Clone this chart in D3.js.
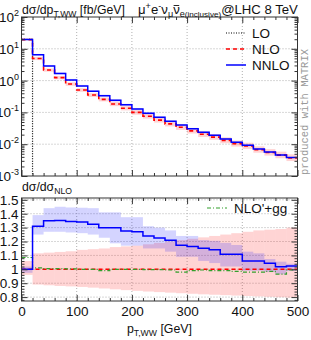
<!DOCTYPE html>
<html><head><meta charset="utf-8">
<script src="https://cdn.jsdelivr.net/npm/d3@7"></script>
<style>body{margin:0;background:#fff}svg{display:block;font-family:"Liberation Sans",Arial,sans-serif}</style>
</head><body><svg id="c" width="311" height="340"></svg>
<script>
// ---------------- data ----------------
const binEdges = [0,20,40,60,80,100,120,140,160,180,200,220,240,260,280,300,320,340,360,380,400,420,440,460,480,500];
const loValues = [20.0]; // LO only populates the first bin
const nloValues = [19.5,4.96,2.15,1.244,0.781,0.507,0.352,0.257,0.184,0.1357,0.100,0.076,0.0573,0.0435,0.034,0.0263,0.0205,0.01675,0.01318,0.01038,0.00877,0.0067,0.00546,0.00452,0.00371];
const nnloValues = [19.5,6.5,2.9,1.68,1.05,0.68,0.466,0.334,0.239,0.173,0.127,0.0942,0.0702,0.0526,0.0399,0.0306,0.0236,0.0191,0.0146,0.0115,0.0093,0.0071,0.0057,0.0046,0.0038];
// scale-uncertainty bands, relative to central NLO
const nloBandLo = [0.96,0.89,0.885,0.88,0.877,0.873,0.868,0.862,0.856,0.85,0.845,0.84,0.836,0.832,0.828,0.824,0.82,0.817,0.814,0.811,0.808,0.805,0.802,0.799,0.796];
const nloBandHi = [1.06,1.115,1.12,1.125,1.13,1.14,1.145,1.15,1.16,1.165,1.17,1.18,1.19,1.2,1.21,1.22,1.23,1.24,1.25,1.26,1.27,1.28,1.285,1.29,1.30];
const nnloBandLo = [0.975,1.25,1.27,1.27,1.265,1.26,1.25,1.227,1.187,1.17,1.17,1.15,1.15,1.127,1.09,1.09,1.06,1.045,1.02,1.02,0.99,0.99,0.98,0.964,0.988];
const nnloBandHi = [1.02,1.39,1.44,1.45,1.445,1.443,1.44,1.41,1.41,1.375,1.375,1.31,1.30,1.28,1.24,1.24,1.21,1.205,1.19,1.175,1.127,1.115,1.074,1.055,1.04];
const nloggRatio = [1.085,1.01,1.005,1.005,1.003,1.0,1.0,0.99,1.0,1.0,1.0,0.998,0.998,0.995,0.98,0.99,0.995,0.99,0.99,0.985,0.98,0.98,0.985,0.965,0.995];
const xTicks = [0,100,200,300,400,500];
const ratioTicks = [0.8,0.9,1,1.1,1.2,1.3,1.4,1.5];
const ratioTickLabels = ["0.8","0.9","1","1.1","1.2","1.3","1.4","1.5"];
const logTicks = [1e-3,1e-2,1e-1,1e0,1e1,1e2];
const logTickExp = ["-3","-2","-1","0","1","2"];

// ---------------- layout ----------------
const svg = d3.select('#c');
const L = 21.5, R = 297.5;
const upT = 17, upB = 176, loT = 198, loB = 301;
const x = d3.scaleLinear().domain([0,500]).range([L,R]);
const yu = d3.scaleLog().domain([1e-3,1e2]).range([upB,upT]).clamp(true);
const yr = d3.scaleLinear().domain([0.772,1.513]).range([loB,loT]);
const FRAME = '#333', GRID = '#b0b0b0', TXT = '#111';
const RED = '#ff0000', BLUE = '#0000ff', GREEN = '#33a02c';

const defs = svg.append('defs');
defs.append('clipPath').attr('id','cu').append('rect').attr('x',L).attr('y',upT).attr('width',R-L).attr('height',upB-upT);
defs.append('clipPath').attr('id','cl').append('rect').attr('x',L).attr('y',loT).attr('width',R-L).attr('height',loB-loT);

function stepPts(vals){
  const p=[]; vals.forEach((v,i)=>{p.push([binEdges[i],v]);p.push([binEdges[i+1],v]);}); return p;
}
const ratio = (a)=>a.map((v,i)=>v/nloValues[i]);

// ---------------- grids ----------------
const gu = svg.append('g');
[100,200,300,400].forEach(t=>{
  gu.append('line').attr('x1',x(t)).attr('x2',x(t)).attr('y1',upT).attr('y2',upB);
  gu.append('line').attr('x1',x(t)).attr('x2',x(t)).attr('y1',loT).attr('y2',loB);
});
logTicks.slice(1,-1).forEach(t=>gu.append('line').attr('x1',L).attr('x2',R).attr('y1',yu(t)).attr('y2',yu(t)));
ratioTicks.forEach(t=>gu.append('line').attr('x1',L).attr('x2',R).attr('y1',yr(t)).attr('y2',yr(t)));
gu.selectAll('line').attr('stroke',GRID).attr('stroke-width',1).attr('stroke-dasharray','1,2');

// ---------------- upper panel ----------------
const up = svg.append('g').attr('clip-path','url(#cu)');
function bandRects(g, yS, lo, hi, color){
  g.selectAll(null).data(nloValues).enter().append('rect')
   .attr('x',(d,i)=>x(binEdges[i])).attr('width',(d,i)=>x(binEdges[i+1])-x(binEdges[i]))
   .attr('y',(d,i)=>yS(hi(i))).attr('height',(d,i)=>Math.max(0,yS(lo(i))-yS(hi(i))))
   .attr('fill',color);
}
bandRects(up, yu, i=>nloValues[i]*nloBandLo[i], i=>nloValues[i]*nloBandHi[i], 'rgba(255,0,0,0.17)');
bandRects(up, yu, i=>nloValues[i]*nnloBandLo[i], i=>nloValues[i]*nnloBandHi[i], 'rgba(0,0,255,0.17)');
const lineU = d3.line().x(d=>x(d[0])).y(d=>yu(d[1]));
const loPts = stepPts(loValues); loPts.push([binEdges[1],1e-4]);
up.append('path').attr('d',lineU(loPts)).attr('fill','none').attr('stroke','#000').attr('stroke-width',1.2).attr('stroke-dasharray','1,1.5');
up.append('path').attr('d',lineU(stepPts(nloValues))).attr('fill','none').attr('stroke',RED).attr('stroke-width',1.6).attr('stroke-dasharray','4,3');
up.append('path').attr('d',lineU(stepPts(nnloValues))).attr('fill','none').attr('stroke',BLUE).attr('stroke-width',1.5);

// ---------------- lower panel ----------------
const lo = svg.append('g').attr('clip-path','url(#cl)');
bandRects(lo, yr, i=>nloBandLo[i], i=>nloBandHi[i], 'rgba(255,0,0,0.17)');
bandRects(lo, yr, i=>nnloBandLo[i], i=>nnloBandHi[i], 'rgba(0,0,255,0.17)');
const lineL = d3.line().x(d=>x(d[0])).y(d=>yr(d[1]));
lo.append('path').attr('d',lineL(stepPts(ratio(nloValues)))).attr('fill','none').attr('stroke',RED).attr('stroke-width',1.6).attr('stroke-dasharray','4,3');
lo.append('path').attr('d',lineL(stepPts(nloggRatio))).attr('fill','none').attr('stroke',GREEN).attr('stroke-width',1.2).attr('stroke-dasharray','4,2,1,2');
lo.append('path').attr('d',lineL(stepPts(ratio(nnloValues)))).attr('fill','none').attr('stroke',BLUE).attr('stroke-width',1.5);

// ---------------- axes / ticks ----------------
function ax(axis, tx, ty){
  const g = svg.append('g').attr('transform',`translate(${tx},${ty})`).call(axis);
  g.select('.domain').remove();
  g.selectAll('line').attr('stroke',FRAME).attr('stroke-width',1);
  g.selectAll('text').attr('font-size',13.5).attr('fill',TXT).attr('font-family','"Liberation Sans",Arial,sans-serif');
  return g;
}
const xMinor = binEdges.filter(v=>v%100!==0);
const logMinor = []; logTicks.slice(0,-1).forEach(d=>{[2,3,4,5,6,7,8,9].forEach(m=>logMinor.push(m*d));});
const ratioMinor = d3.range(39,76).map(k=>k/50).filter(v=>Math.abs(v*10-Math.round(v*10))>1e-6);

[[upT,upB],[loT,loB]].forEach(([t,b],k)=>{
  ax(d3.axisTop(x).tickValues(xTicks).tickSize(-6).tickFormat(''),0,t);
  ax(d3.axisTop(x).tickValues(xMinor).tickSize(-3).tickFormat(''),0,t);
  ax(d3.axisBottom(x).tickValues(xTicks).tickSize(-6).tickPadding(5).tickFormat(k===1?d3.format('d'):''),0,b);
  ax(d3.axisBottom(x).tickValues(xMinor).tickSize(-3).tickFormat(''),0,b);
});
ax(d3.axisLeft(yu).tickValues(logTicks).tickSize(-6).tickFormat(''),L,0);
ax(d3.axisLeft(yu).tickValues(logMinor).tickSize(-3).tickFormat(''),L,0);
ax(d3.axisRight(yu).tickValues(logTicks).tickSize(-6).tickFormat(''),R,0);
ax(d3.axisRight(yu).tickValues(logMinor).tickSize(-3).tickFormat(''),R,0);
ax(d3.axisLeft(yr).tickValues(ratioTicks).tickSize(-6).tickPadding(3).tickFormat((d,i)=>ratioTickLabels[i]),L,0);
ax(d3.axisLeft(yr).tickValues(ratioMinor).tickSize(-3).tickFormat(''),L,0);
ax(d3.axisRight(yr).tickValues(ratioTicks).tickSize(-6).tickFormat(''),R,0);
ax(d3.axisRight(yr).tickValues(ratioMinor).tickSize(-3).tickFormat(''),R,0);

// log labels with superscripts
logTicks.forEach((t,i)=>{
  const tx = svg.append('text').attr('x',19).attr('y',yu(t)+5).attr('text-anchor','end').attr('font-size',13.5).attr('fill',TXT);
  tx.append('tspan').text('10');
  tx.append('tspan').attr('dy',-6).attr('font-size',9).text(logTickExp[i]);
});

// frames
svg.append('rect').attr('x',L).attr('y',upT).attr('width',R-L).attr('height',upB-upT).attr('fill','none').attr('stroke',FRAME);
svg.append('rect').attr('x',L).attr('y',loT).attr('width',R-L).attr('height',loB-loT).attr('fill','none').attr('stroke',FRAME);

// ---------------- texts ----------------
// rich text with sub/superscripts, then font scaled so the whole string spans `target` px
function rich(sel, baseFs, parts, target){
  const build = (k)=>{
    sel.selectAll('tspan').remove();
    sel.attr('font-size', baseFs*k);
    let cur = 0;
    parts.forEach(p=>{
      const off = (p.off||0)*k;
      const ts = sel.append('tspan').text(p.t).attr('dy', off-cur);
      if(p.fs) ts.attr('font-size',p.fs*k);
      cur = off;
    });
  };
  build(1);
  if(target){ const w = sel.node().getComputedTextLength(); build(target/w); }
}
const t1 = svg.append('text').attr('x',22).attr('y',14).attr('fill',TXT);
rich(t1,13.5,[{t:'dσ/dp'},{t:'T,WW',off:3,fs:9.5},{t:' [fb/GeV]',off:0}],103);
const t2 = svg.append('text').attr('x',138).attr('y',14).attr('fill',TXT);
rich(t2,13,[{t:'μ'},{t:'+',off:-5,fs:9},{t:'e',off:0},{t:'-',off:-5,fs:9},{t:'ν',off:0},{t:'μ',off:3,fs:9},{t:'ν',off:0},{t:'e',off:3,fs:9},{t:'(inclusive)',off:3,fs:8},{t:'@LHC 8 TeV',off:0}],160);
// macron over the anti-neutrino
{
  const node = t2.node();
  const s = node.getStartPositionOfChar(6), e = node.getEndPositionOfChar(6);
  svg.append('line').attr('x1',s.x+0.5).attr('x2',e.x-0.5).attr('y1',5.5).attr('y2',5.5).attr('stroke',TXT).attr('stroke-width',0.9);
}
const t3 = svg.append('text').attr('x',22).attr('y',191).attr('fill',TXT);
rich(t3,13.5,[{t:'dσ/dσ'},{t:'NLO',off:3,fs:9.5}],50);
const t4 = svg.append('text').attr('x',127).attr('y',333).attr('fill',TXT);
rich(t4,13.5,[{t:'p'},{t:'T,WW',off:3,fs:9.5},{t:' [GeV]',off:0}],65);

svg.append('text').attr('transform','translate(308,112) rotate(-90)').attr('text-anchor','middle')
  .attr('font-family','"Liberation Mono","DejaVu Sans Mono",monospace').attr('font-size',10.5).attr('fill','#999')
  .text('produced with MATRIX');

// legends
const legU = [
  {name:'LO', color:'#000', dash:'1,1.5', w:1.2, y:33},
  {name:'NLO', color:RED, dash:'4,3', w:1.6, y:49},
  {name:'NNLO', color:BLUE, dash:null, w:1.5, y:65}
];
legU.forEach(d=>{
  svg.append('line').attr('x1',226).attr('x2',246).attr('y1',d.y).attr('y2',d.y).attr('stroke',d.color).attr('stroke-width',d.w).attr('stroke-dasharray',d.dash);
  svg.append('text').attr('x',252).attr('y',d.y+4.5).attr('font-size',13.5).attr('fill',TXT).text(d.name);
});
svg.append('line').attr('x1',207).attr('x2',227).attr('y1',208).attr('y2',208).attr('stroke',GREEN).attr('stroke-width',1.2).attr('stroke-dasharray','4,2,1,2');
svg.append('text').attr('x',234).attr('y',212.5).attr('font-size',13.5).attr('fill',TXT).text("NLO'+gg");
</script></body></html>
